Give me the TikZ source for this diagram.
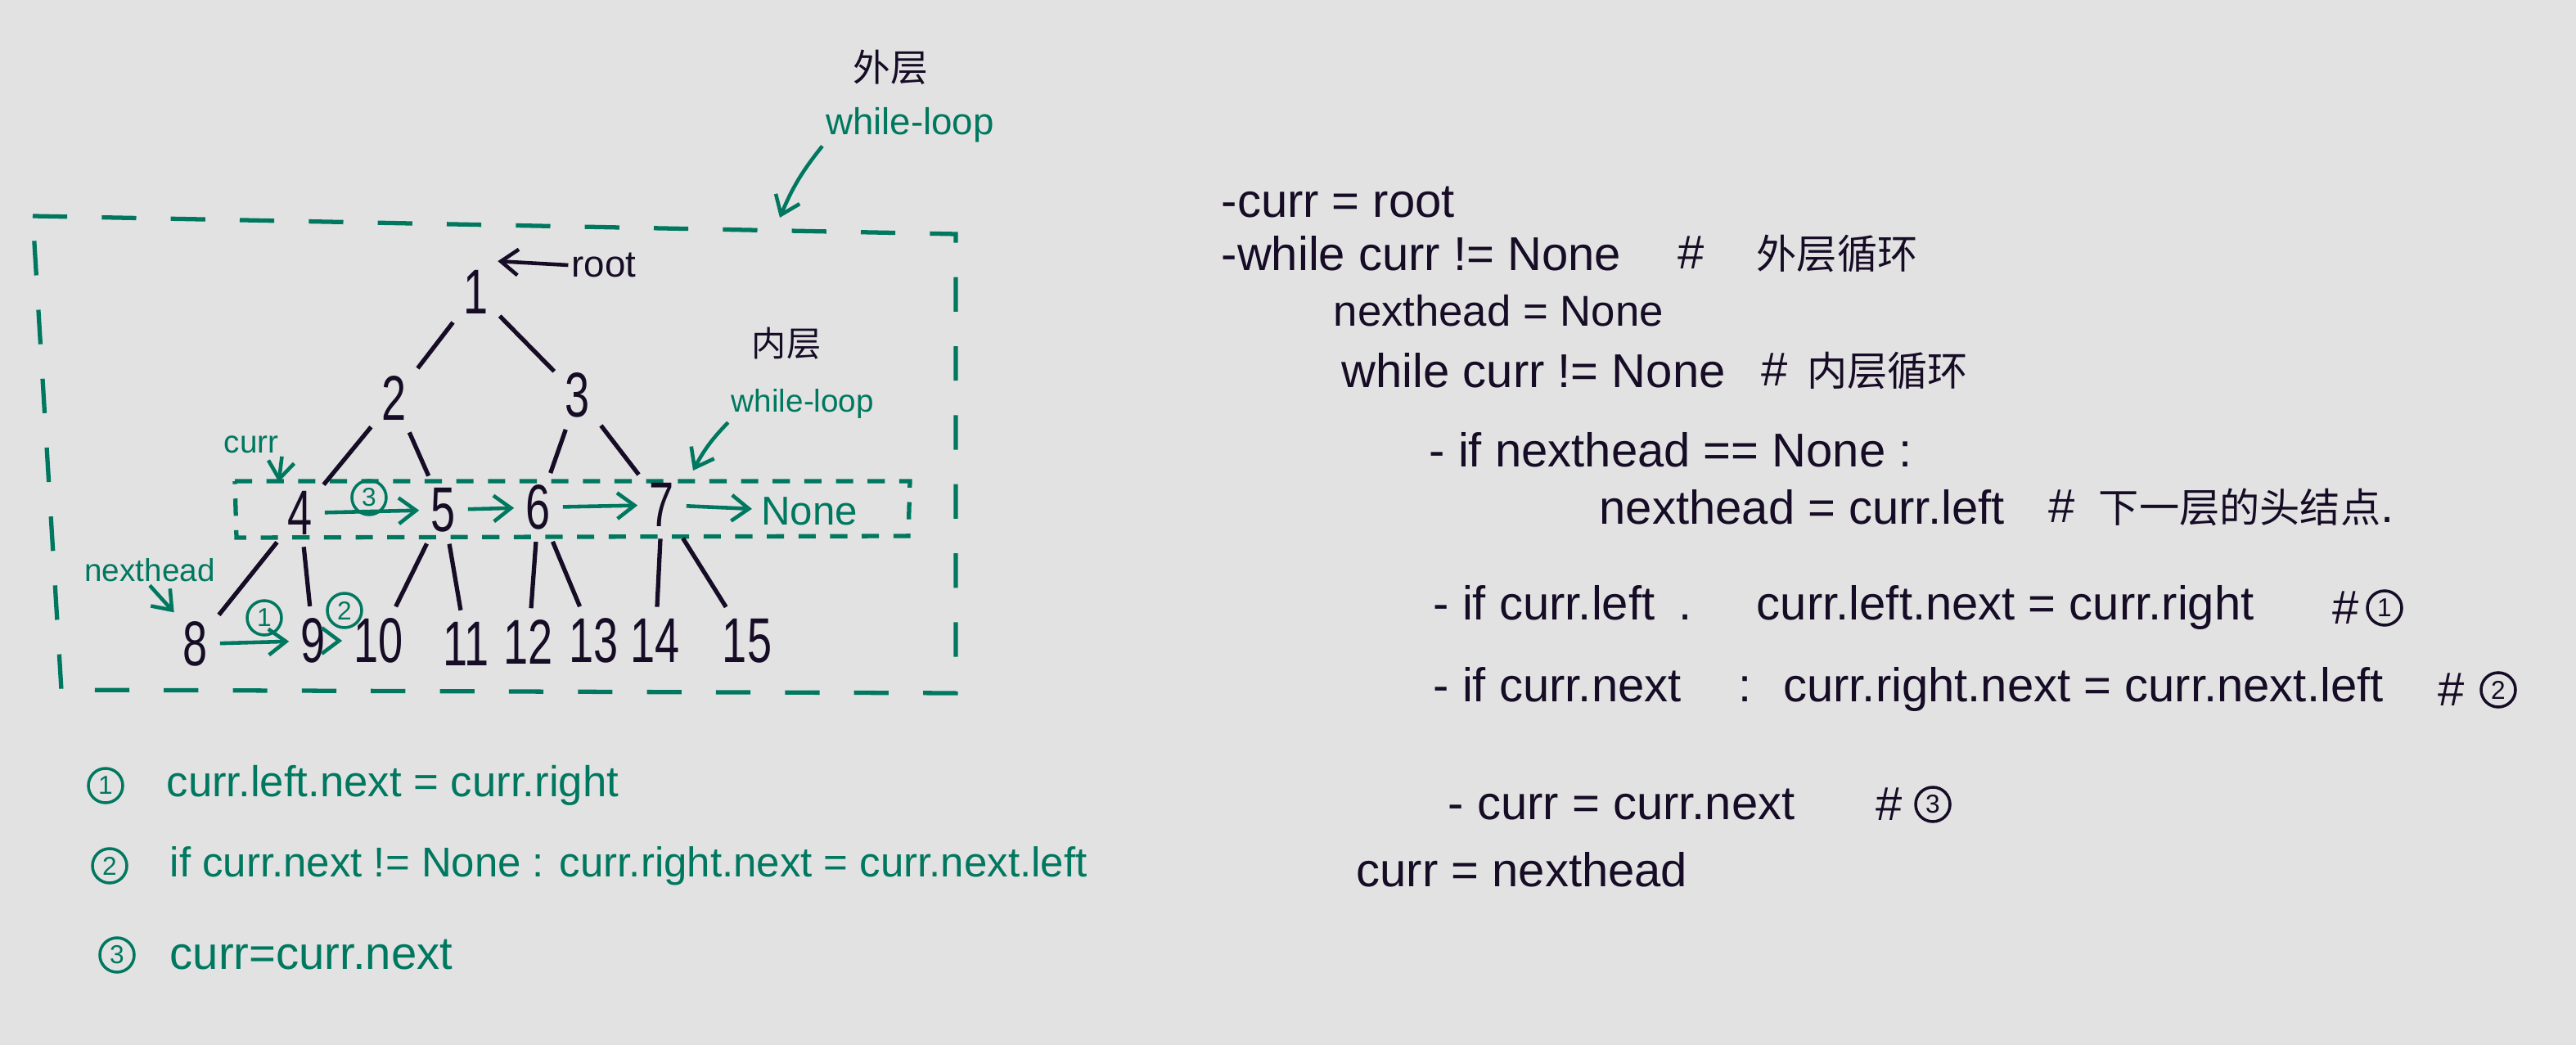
\documentclass[tikz,border=0pt]{standalone}
\usepackage{fontspec}
\setmainfont{Liberation Sans}
\newfontfamily\cjk{Noto Sans CJK SC}
\newfontfamily\digits[FakeStretch=0.7]{Liberation Sans}
\usetikzlibrary{arrows.meta}
\definecolor{inkgreen}{RGB}{0,120,96}
\definecolor{inkblack}{RGB}{22,12,38}
\definecolor{paper}{RGB}{226,226,226}

\begin{document}
\begin{tikzpicture}[
    num/.style = {font=\digits\fontsize{22}{22}\selectfont, text=inkblack, inner sep=3pt},
    branch/.style = {draw=inkblack, line width=1.5pt, shorten <=1pt, shorten >=1pt},
    link/.style = {draw=inkgreen, line width=1.3pt,
      -{Straight Barb[length=6pt,width=9pt]}, shorten <=1pt, shorten >=1pt},
    pointer/.style = {link, shorten <=0pt, shorten >=0pt},
    note/.style = {font=\fontsize{11}{11}\selectfont, text=inkgreen, inner sep=1pt},
    code/.style = {anchor=west, font=\fontsize{16.5}{16.5}\selectfont, text=inkblack, inner sep=0pt},
    legend/.style = {anchor=west, font=\fontsize{15}{15}\selectfont, text=inkgreen, inner sep=0pt},
    circnum/.style = {circle, draw, line width=1pt, inner sep=0pt, minimum size=0.42cm,
      font=\fontsize{9}{9}\selectfont},
    loopbox/.style = {draw=inkgreen, line width=1.5pt}
  ]
  \fill[paper] (0,0) rectangle (31.48,-12.77);
  \useasboundingbox (0,0) rectangle (31.48,-12.77);

  % loops
  \draw[loopbox, dash pattern=on 12pt off 12pt]
    (0.40,-2.64) -- (11.68,-2.86) -- (11.68,-8.47) -- (0.75,-8.43) -- cycle;
  \draw[loopbox, dash pattern=on 6pt off 5pt]
    (2.87,-5.88) -- (11.12,-5.88) -- (11.10,-6.55) -- (2.89,-6.57) -- cycle;
  \coordinate (otip) at (9.53,-2.66);
  \coordinate (itip) at (8.47,-5.75);

  % tree
  \node[num] (n1) at (5.82,-3.57) {1};
  \node[num] (n2) at (4.82,-4.87) {2};
  \node[num] (n3) at (7.06,-4.83) {3};
  \node[num] (n4) at (3.67,-6.27) {4};
  \node[num] (n5) at (5.42,-6.23) {5};
  \node[num] (n6) at (6.58,-6.20) {6};
  \node[num] (n7) at (8.09,-6.17) {7};
  \node[num] (n8) at (2.39,-7.87) {8};
  \node[num] (n9) at (3.83,-7.83) {9};
  \node[num] (n10) at (4.63,-7.83) {10};
  \node[num] (n11) at (5.70,-7.87) {11};
  \node[num] (n12) at (6.46,-7.85) {12};
  \node[num] (n13) at (7.26,-7.83) {13};
  \node[num] (n14) at (8.01,-7.83) {14};
  \node[num] (n15) at (9.13,-7.83) {15};
  \node[text=inkgreen, font=\fontsize{14}{14}\selectfont, inner sep=2pt] (none) at (9.89,-6.25) {None};
  \foreach \a/\b in {1/2,1/3,2/4,2/5,3/6,3/7,4/8,4/9,5/10,5/11,6/12,6/13,7/14,7/15}
    \draw[branch] (n\a) -- (n\b);

  \draw[link] (n4) -- (n5);
  \draw[link] (n5) -- (n6);
  \draw[link] (n6) -- (n7);
  \draw[link] (n7) -- (none);
  \draw[link] (n8) -- (n9);
  \draw[link] (n9) -- (n10);
  \node[circnum, draw=inkgreen, text=inkgreen] (s3) at (4.51,-6.08) {3};
  \node[circnum, draw=inkgreen, text=inkgreen] (s1) at (3.23,-7.55) {1};
  \node[circnum, draw=inkgreen, text=inkgreen] (s2) at (4.21,-7.46) {2};

  % pointers
  \node[text=inkblack, font=\fontsize{13}{13}\selectfont, inner sep=1pt] (root) at (7.38,-3.24) {root};
  \draw[pointer, draw=inkblack] (root.west) -- (n1.north east);
  \node[note] (curr) at (3.07,-5.43) {curr};
  \draw[pointer] (curr.south east) -- (n4.north west);
  \node[note] (nexthead) at (1.83,-6.97) {nexthead};
  \draw[pointer] (nexthead.south) -- (n8.north west);
  \node[text=inkblack, font=\cjk\fontsize{13}{13}\selectfont] (outer) at (10.88,-0.82) {外层};
  \node[note, font=\fontsize{13}{13}\selectfont] (outerloop) at (11.12,-1.53) {while-loop};
  \draw[pointer] (outerloop.south west) to[bend right=8] (otip);
  \node[text=inkblack, font=\cjk\fontsize{12}{12}\selectfont] (inner) at (9.61,-4.20) {内层};
  \node[note] (innerloop) at (9.81,-4.94) {while-loop};
  \draw[pointer] (innerloop.south west) to[bend right=8] (itip);

  % legend
  \node[circnum, draw=inkgreen, text=inkgreen] (k1) at (1.29,-9.60) {1};
  \node[legend] (l1) at (2.03,-9.60) {curr.left.next = curr.right};
  \node[circnum, draw=inkgreen, text=inkgreen] (k2) at (1.34,-10.58) {2};
  \node[legend, font=\fontsize{14.5}{14.5}\selectfont] (l2) at (2.07,-10.58) {if curr.next != None : curr.right.next = curr.next.left};
  \node[circnum, draw=inkgreen, text=inkgreen] (k3) at (1.43,-11.67) {3};
  \node[legend, font=\fontsize{16}{16}\selectfont] (l3) at (2.07,-11.67) {curr=curr.next};

  % code
  \node[code] (c1) at (14.92,-2.47) {-curr = root};
  \node[code] (c2) at (14.92,-3.10) {-while curr != None};
  \node[code] (h2) at (20.50,-3.10) {\#\hspace{1.1em}{\cjk\fontsize{14}{14}\selectfont 外层循环}};
  \node[code, font=\fontsize{15}{15}\selectfont] (c3) at (16.29,-3.80) {nexthead = None};
  \node[code] (c4) at (16.39,-4.53) {while curr != None};
  \node[code] (h4) at (21.52,-4.53) {\#\hspace{0.4em}{\cjk\fontsize{14}{14}\selectfont 内层循环}};
  \node[code] (c5) at (17.46,-5.50) {- if nexthead == None :};
  \node[code] (c6) at (19.54,-6.20) {nexthead = curr.left};
  \node[code] (h6) at (25.03,-6.20) {\#\hspace{0.5em}{\cjk\fontsize{14}{14}\selectfont 下一层的头结点}.};
  \node[code] (c7) at (17.51,-7.43) {- if curr.left\hspace{0.5em}.\hspace{1em} curr.left.next = curr.right};
  \node[code] (h7) at (28.50,-7.43) {\#};
  \node[circnum, draw=inkblack, text=inkblack] (r1) at (29.14,-7.43) {1};
  \node[code] (c8) at (17.51,-8.43) {- if curr.next\hspace{1.2em}:\hspace{0.3em} curr.right.next = curr.next.left};
  \node[code] (h8) at (29.79,-8.43) {\#};
  \node[circnum, draw=inkblack, text=inkblack] (r2) at (30.53,-8.43) {2};
  \node[code] (c9) at (17.69,-9.83) {- curr = curr.next};
  \node[code] (h9) at (22.92,-9.83) {\#};
  \node[circnum, draw=inkblack, text=inkblack] (r3) at (23.62,-9.83) {3};
  \node[code] (c10) at (16.57,-10.63) {curr = nexthead};
\end{tikzpicture}
\end{document}
